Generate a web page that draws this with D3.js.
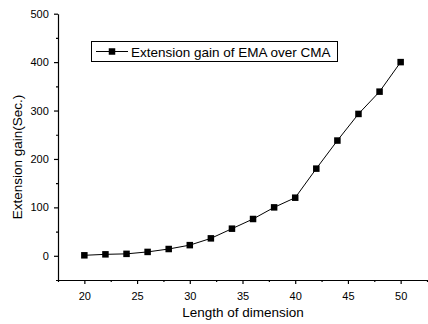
<!DOCTYPE html>
<html><head><meta charset="utf-8">
<script src="https://cdn.jsdelivr.net/npm/d3@7"></script>
<style>body{margin:0;background:#fff}svg{display:block}text{font-family:"Liberation Sans",Arial,sans-serif}</style>
</head><body><svg id="c" width="428" height="324"></svg>
<script>
const lengths = [20,22,24,26,28,30,32,34,36,38,40,42,44,46,48,50];
const gains = [1,3,4,8,14,22,36,56,76,100,120,180,238,293,339,400];
const seriesName = "Extension gain of EMA over CMA";
const xTicks = [20,25,30,35,40,45,50];
const yTicks = [0,100,200,300,400,500];
const xLabel = "Length of dimension";
const yLabel = "Extension gain(Sec.)";

const svg = d3.select("#c");
const x = d3.scaleLinear().domain([17.5,52.5]).range([58,427]);
const y = d3.scaleLinear().domain([-50,500]).range([280,13.7]);

const gx = svg.append("g").attr("transform","translate(0,280)")
  .call(d3.axisBottom(x).tickValues(xTicks).tickSize(4).tickSizeOuter(0).tickFormat(d3.format("d")));
svg.append("g").attr("transform","translate(0,280)")
  .call(d3.axisBottom(x).tickValues(d3.range(17.5,52.6,2.5).filter(v=>v%5!==0)).tickSize(2).tickSizeOuter(0).tickFormat(""))
  .select(".domain").remove();
const gy = svg.append("g").attr("transform","translate(58,0)")
  .call(d3.axisLeft(y).tickValues(yTicks).tickSize(4).tickSizeOuter(0).tickFormat(d3.format("d")));
svg.append("g").attr("transform","translate(58,0)")
  .call(d3.axisLeft(y).tickValues([-50,50,150,250,350,450]).tickSize(2).tickSizeOuter(0).tickFormat(""))
  .select(".domain").remove();
svg.selectAll(".tick text").attr("font-size",11).attr("fill","#000").style("font-family","'Liberation Sans',Arial,sans-serif");
gx.selectAll(".tick text").attr("dy","1.15em");
gy.selectAll(".tick text").attr("dx","-0.2em");
svg.selectAll(".domain, .tick line").attr("stroke","#000").attr("stroke-width",1.2);

svg.append("path").datum(lengths.map((l,i)=>[l,gains[i]]))
  .attr("fill","none").attr("stroke","#000").attr("stroke-width",1)
  .attr("d",d3.line().x(d=>x(d[0])).y(d=>y(d[1])));
const ms=6.5;
svg.selectAll("rect.m").data(lengths.map((l,i)=>[l,gains[i]])).enter().append("rect")
  .attr("x",d=>x(d[0])-ms/2).attr("y",d=>y(d[1])-ms/2).attr("width",ms).attr("height",ms).attr("fill","#000");

// legend
const lg = svg.append("g");
lg.append("rect").attr("x",91.5).attr("y",41.5).attr("width",246).attr("height",20).attr("fill","#fff").attr("stroke","#000").attr("stroke-width",1);
lg.append("line").attr("x1",96).attr("x2",128).attr("y1",51.5).attr("y2",51.5).attr("stroke","#000");
lg.append("rect").attr("x",112-ms/2).attr("y",51.5-ms/2).attr("width",ms).attr("height",ms).attr("fill","#000");
lg.append("text").attr("x",131).attr("y",56.5).attr("font-size",13.5).text(seriesName);

svg.append("text").attr("x",243).attr("y",317).attr("text-anchor","middle").attr("font-size",13.5).text(xLabel);
svg.append("text").attr("transform","translate(22,157) rotate(-90)").attr("text-anchor","middle").attr("font-size",13.5).text(yLabel);
</script></body></html>
